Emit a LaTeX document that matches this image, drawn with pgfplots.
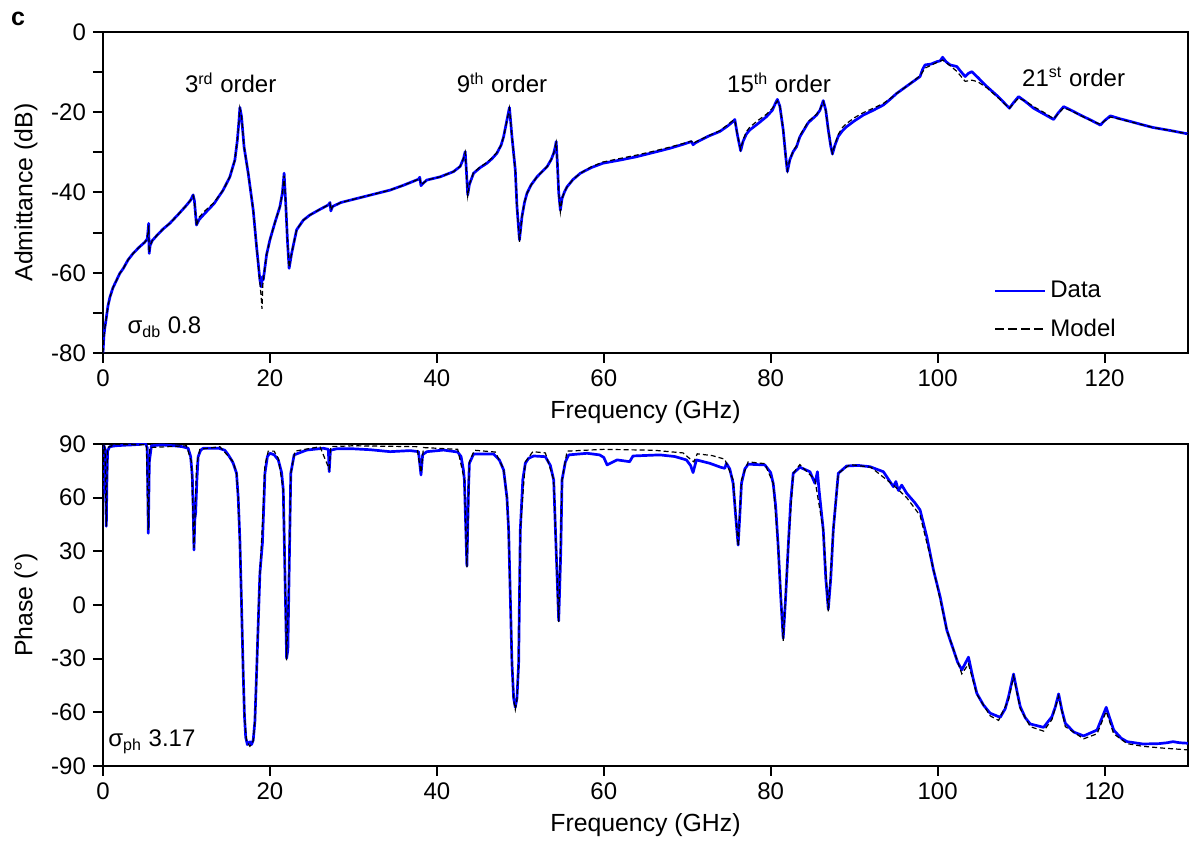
\documentclass[border=0pt]{standalone}
\usepackage{pgfplots}
\pgfplotsset{compat=1.18}
\usepackage{fontspec}
\setmainfont{Liberation Sans}
\definecolor{dblue}{RGB}{0,0,255}

\pgfplotsset{
  base/.style={
    scale only axis,
    width=542.5pt,
    xmin=0, xmax=130,
    xtick={0,20,...,120},
    axis line style={line width=1pt},
    tick align=outside,
    tick pos=left,
    major tick length=5pt,
    minor tick length=5pt,
    every tick/.style={black, line width=1pt},
    /pgf/number format/assume math mode=true,
    tick label style={font=\fontsize{12}{14}\selectfont},
    label style={font=\fontsize{12.4}{14}\selectfont},
    xlabel={Frequency (GHz)},
    clip=true,
  },
  dataline/.style={dblue, line width=1.35pt, line join=round},
  modelline/.style={black, line width=0.6pt, dash pattern=on 2.5pt off 1.5pt},
}

\pgfplotstableread{
x y
0.0 -80
0.1 -76
0.2 -74
0.36 -71.8
0.6 -68.2
0.84 -66
1.2 -63.7
1.64 -61.8
2.0 -60.2
2.44 -58.9
3.0 -56.8
3.6 -55.2
4.3 -53.7
5.0 -52.4
5.3 -51.6
5.42 -49
5.47 -47.7
5.53 -55.2
5.65 -53.2
5.9 -52
6.5 -50.6
7.2 -49.1
8.0 -47.7
9.0 -45.5
10.0 -43.2
10.5 -41.9
10.8 -40.6
10.95 -42
11.2 -48.1
11.5 -46.8
12.2 -45.2
13.3 -42.8
14.4 -39.4
15.2 -36.1
15.8 -31.9
16.1 -26.9
16.3 -21.9
16.4 -18.8
16.6 -21.1
16.9 -28.6
17.4 -35.2
18.0 -44.4
18.4 -53.5
18.8 -61.8
18.95 -63.5
19.1 -61
19.2 -61.8
19.35 -59.5
19.6 -55.5
20.0 -51.8
20.6 -47.5
21.2 -43.5
21.5 -40
21.7 -35.2
21.9 -43
22.1 -52
22.3 -58.9
22.6 -55.2
23.2 -49.3
24.0 -46.9
24.8 -45.6
26.0 -44.2
27.0 -43.1
27.2 -42.5
27.3 -44.6
27.5 -43.5
28.5 -42.5
30.4 -41.5
32.5 -40.4
34.4 -39.4
36.0 -38.2
37.8 -36.7
37.95 -36.2
38.1 -38.3
38.3 -37.8
38.8 -36.9
40.4 -36.1
42.0 -34.8
42.8 -33.5
43.2 -31.5
43.4 -29.8
43.55 -35
43.7 -40.6
43.9 -38
44.4 -35.2
45.2 -33.8
46.0 -32.7
46.6 -31.6
47.2 -30.2
47.7 -28.2
48.0 -26.1
48.4 -21.9
48.7 -18.8
49.0 -26.1
49.4 -34.4
49.6 -43.5
49.9 -51.8
50.2 -46.0
50.5 -42.5
50.8 -40.2
51.3 -38.1
52.0 -36.1
53.2 -33.6
53.7 -31.8
54.0 -30.2
54.2 -28.5
54.3 -27.3
54.45 -33
54.6 -40
54.8 -44.4
55.0 -41.5
55.3 -39.8
55.6 -38.6
56.3 -36.8
57.2 -35.2
58.5 -33.8
59.9 -32.7
62.0 -31.9
63.9 -31.1
66.0 -30.0
67.9 -29.0
69.5 -28.0
70.5 -27.3
70.7 -28.1
71.0 -27.6
72.5 -26.0
73.9 -24.8
74.8 -23.5
75.5 -22.3
75.7 -21.8
76.0 -25.5
76.4 -29.6
76.7 -27.2
77.1 -25.4
77.5 -24.4
78.5 -22.8
79.5 -21.1
80.2 -19.5
80.6 -17.6
80.8 -16.8
81.1 -18.5
81.5 -24.4
81.8 -31
82.0 -34.8
82.3 -31.8
82.7 -29.8
83.1 -28.6
83.5 -26.1
84.5 -22.6
85.5 -20.7
85.9 -19.5
86.3 -17.1
86.6 -19.5
86.9 -24.4
87.2 -28.5
87.4 -30.4
87.7 -28.2
88.1 -26.0
88.6 -24.6
89.1 -23.6
90.0 -22.2
91.1 -20.7
92.3 -19.5
93.5 -18.2
94.3 -16.8
95.1 -15.3
96.5 -13.2
97.9 -11.1
98.2 -9.3
98.5 -8.2
99.2 -8.0
99.9 -7.4
100.3 -7.2
100.6 -6.3
101.0 -7.4
101.5 -8.2
102.3 -8.6
102.8 -9.9
103.3 -11.1
103.7 -10.3
104.1 -9.9
104.8 -11.3
105.9 -13.6
107.3 -16.2
108.6 -19.0
109.1 -17.6
109.7 -16.1
110.5 -17.3
111.5 -19.0
112.7 -20.4
113.9 -21.8
114.4 -20.3
115.1 -18.6
116.0 -19.5
117.1 -20.7
118.3 -21.9
119.5 -23.2
120.0 -22.1
120.7 -20.9
121.8 -21.6
123.1 -22.3
124.5 -23.1
125.8 -23.8
128.0 -24.6
130.0 -25.4
}\admdata

\pgfplotstableread{
x y
0.0 -80
0.1 -76
0.2 -74
0.36 -71.8
0.6 -68.2
0.84 -66
1.2 -63.7
1.64 -61.8
2.0 -60.2
2.44 -58.9
3.0 -56.8
3.6 -55.2
4.3 -53.7
5.0 -52.4
5.3 -51.6
5.42 -49.5
5.47 -48.2
5.53 -55.0
5.65 -53.2
5.9 -52
6.5 -50.6
7.2 -49.1
8.0 -47.7
9.0 -45.5
10.0 -43.2
10.5 -41.9
10.8 -40.8
10.95 -42
11.2 -48.3
11.5 -46.2
12.2 -44.6
13.3 -42.5
14.4 -39.4
15.2 -36.1
15.8 -31.9
16.1 -26.9
16.3 -22.1
16.4 -19.0
16.6 -21.1
16.9 -28.6
17.4 -35.2
18.0 -44.4
18.4 -53.5
18.8 -62.5
18.95 -66
19.05 -69
19.15 -63
19.35 -59.5
19.6 -55.5
20.0 -51.8
20.6 -47.5
21.2 -43.5
21.5 -40
21.7 -35.8
21.9 -43
22.1 -52
22.3 -58.7
22.6 -55.2
23.2 -49.3
24.0 -46.9
24.8 -45.6
26.0 -44.2
27.0 -43.1
27.2 -42.7
27.3 -44.4
27.5 -43.5
28.5 -42.5
30.4 -41.5
32.5 -40.4
34.4 -39.4
36.0 -38.2
37.8 -36.7
37.95 -36.4
38.1 -38.1
38.3 -37.8
38.8 -36.9
40.4 -36.1
42.0 -34.8
42.8 -33.5
43.2 -31.5
43.4 -30.0
43.55 -35
43.7 -40.8
43.9 -38
44.4 -35.0
45.2 -33.6
46.0 -32.5
46.6 -31.4
47.2 -30.0
47.7 -28.2
48.0 -26.1
48.4 -22.1
48.7 -19.0
49.0 -26.1
49.4 -34.4
49.6 -43.5
49.9 -52.3
50.2 -46.0
50.5 -42.5
50.8 -40.2
51.3 -38.1
52.0 -36.1
53.2 -33.6
53.7 -31.8
54.0 -30.2
54.2 -28.5
54.3 -27.6
54.45 -33
54.6 -40
54.8 -44.8
55.0 -41.5
55.3 -39.8
55.6 -38.6
56.3 -36.8
57.2 -35.2
58.5 -33.6
59.9 -32.4
62.0 -31.5
63.9 -30.7
66.0 -29.7
67.9 -28.7
69.5 -27.8
70.5 -27.2
70.7 -27.8
71.0 -27.4
72.5 -25.9
73.9 -24.6
74.8 -23.2
75.5 -22.0
75.7 -22.0
76.0 -25.5
76.4 -29.3
76.7 -26.8
77.1 -24.8
77.5 -23.7
78.5 -22.0
79.5 -20.5
80.2 -19.0
80.6 -17.8
80.8 -17.2
81.1 -18.5
81.5 -24.4
81.8 -31
82.0 -34.5
82.3 -31.8
82.7 -29.6
83.1 -28.3
83.5 -25.8
84.5 -22.3
85.5 -20.5
85.9 -19.3
86.3 -17.4
86.6 -19.5
86.9 -24.4
87.2 -28.5
87.4 -30.2
87.7 -28.0
88.1 -25.5
88.6 -23.8
89.1 -22.8
90.0 -21.4
91.1 -20.1
92.3 -19.0
93.5 -17.8
94.3 -16.6
95.1 -15.3
96.5 -13.2
97.9 -10.9
98.5 -9.0
99.2 -8.3
99.9 -7.6
100.6 -7.0
101.5 -8.4
102.3 -9.8
103.3 -12.3
104.1 -12.0
104.8 -12.4
105.9 -13.9
107.3 -16.5
108.6 -19.0
109.1 -17.8
109.7 -16.5
110.5 -17.2
111.5 -18.6
112.7 -20.0
113.9 -21.6
114.4 -20.5
115.1 -18.9
116.0 -19.6
117.1 -20.8
118.3 -22.0
119.5 -23.0
120.0 -22.2
120.7 -21.2
121.8 -21.7
123.1 -22.4
124.5 -23.1
125.8 -23.8
128.0 -24.6
130.0 -25.4
}\admmodel

\pgfplotstableread{
x y
0.0 62
0.05 80
0.12 89
0.25 87
0.33 60
0.4 44
0.47 70
0.55 86
0.8 88.5
1.5 89
2.5 89.3
3.5 89.5
4.5 89.8
5.0 91
5.3 88
5.43 40.1
5.55 80
5.8 89
7 89.5
8.5 89
9.5 88.5
10.2 87.6
10.5 83
10.7 72
10.8 55
10.9 30.7
11.0 48
11.1 51.3
11.25 70
11.4 82.9
11.7 86.5
12.0 87.6
13.9 87.6
14.6 86.5
15.0 84
15.4 81
15.6 79.2
15.9 75
16.0 73.6
16.2 60
16.4 36.3
16.6 0
16.8 -38.2
16.95 -62
17.1 -74
17.3 -78
17.6 -76.5
17.8 -78
18.0 -75.5
18.2 -65
18.4 -38.2
18.6 -10
18.8 17.7
19.1 34.5
19.3 60
19.4 73.6
19.7 83
20.0 84.8
20.5 84
21.0 81.1
21.4 74
21.6 64.3
21.8 17.7
22.0 -29.8
22.15 -25
22.3 17.7
22.5 73.6
22.9 83.9
24.4 86.6
26.4 87.6
27.0 87
27.1 74.5
27.25 86.5
28 87.3
30 87.3
32 86.8
34.4 85.7
36.8 86.3
37.8 85.7
38.1 72.7
38.3 84
38.8 85.7
40.8 86.6
42.5 85.5
42.9 83
43.2 75
43.3 69.9
43.6 21.8
43.8 66
43.9 79.2
44.4 84.4
46.8 84.4
47.5 81
48.0 75.5
48.4 60
48.6 41.9
48.8 5
49.0 -32.6
49.2 -52
49.4 -57.2
49.6 -52
49.8 -32.6
49.9 5
50.0 41.9
50.3 70
50.6 79.2
51.0 82
51.6 83.3
53.0 82.9
53.6 78
54.0 69.9
54.3 30
54.6 -8.8
54.85 30
55.0 69.9
55.4 80
55.8 83.9
58.0 84.8
59.5 83.9
60.0 82.5
60.4 78.3
61.6 81.1
63.1 80.1
63.5 83.3
66.7 83.9
68.5 83
69.9 81.1
70.4 78
70.7 74.0
71.1 81.1
72.7 79.2
74.0 77
74.5 76.4
74.7 79.2
75.1 76
75.5 68.0
75.8 50
76.1 33.5
76.3 50
76.5 68.0
76.9 76
77.3 78.7
79.3 78.3
80.0 74
80.3 68.0
80.6 55
80.9 32.6
81.2 5
81.5 -18.6
81.8 5
82.1 32.6
82.4 58
82.7 73.6
83.5 77
84.7 74.5
85.3 68.0
85.6 74.5
85.8 64
86.3 41.9
86.6 15
86.9 -2.4
87.2 15
87.5 41.9
88.1 73.6
89.1 77.7
90.5 78
91.9 77.3
93.5 74.5
94.7 66.1
95.0 69
95.3 64
95.7 67
96.3 62.4
97.3 57
97.9 53.1
98.7 38.2
99.5 19.6
100.3 4.7
101.1 -14.0
101.9 -25.1
102.4 -32
102.9 -36.3
103.7 -29.2
104.2 -40
104.7 -49.4
105.5 -56
106.3 -60.5
107.5 -62.8
108.1 -58
108.5 -51.2
109.1 -38.6
109.5 -48
109.9 -56.8
110.5 -63
111.1 -66.5
112.7 -68.4
113.7 -62.4
114.1 -57
114.5 -49.7
114.9 -59
115.3 -66.1
116.3 -71
117.5 -73.2
119.1 -69.9
119.7 -63
120.2 -57.2
120.6 -63
121.1 -69.9
122.0 -74.5
122.7 -76.4
124.6 -77.7
126.5 -77.5
127.5 -77
128.2 -76.4
129 -77
130 -77.3
}\phdata

\pgfplotstableread{
x y
0.0 62
0.05 80
0.12 89
0.25 87
0.33 60
0.4 44
0.47 70
0.55 88
1.5 89.8
5.2 89.5
5.43 42
5.6 88
10.0 89
10.6 80
10.9 32
11.2 78
11.6 87
14 88.5
15.6 80
16.0 73.6
16.2 60
16.4 36.3
16.6 0
16.8 -38.2
16.95 -62
17.2 -76
17.6 -79
18.0 -76
18.2 -65
18.4 -38.2
18.6 -10
18.8 17.7
19.1 45
19.4 78
19.8 86
20.5 86
21.0 82
21.6 64.3
21.8 17.7
22.0 -31
22.3 17.7
22.5 73.6
23 86
26 88.5
27.1 76
27.3 88.5
30 89
37.6 88.5
38.1 74
38.4 88
42.5 87
43.3 70
43.6 21
43.9 80
44.5 86.5
47 85.5
48 76
48.4 60
48.6 41.9
48.8 5
49.0 -32.6
49.2 -53
49.4 -58.5
49.6 -53
49.8 -32.6
49.9 5
50.0 41.9
50.6 80
51.5 85.7
53 85
54 70
54.6 -9.5
55 70
55.6 86
60 87
66 86.5
69.5 85
70.5 81
70.8 80
71.2 84.5
73 83.5
74.5 81.5
75.5 70
76.1 33
76.5 70
77.3 80
79.3 79
80.3 68
80.9 32.6
81.5 -20
82.1 32.6
82.7 73.6
83.5 78.5
85.3 70
86.3 41.9
86.9 -3.5
87.5 41.9
88.1 73.6
89.5 78.5
92 77
94.7 67
96.3 60
97.9 50
99.5 20
101.1 -14
102.9 -38.5
103.7 -33
104.7 -50
106.3 -62
107.3 -64.5
108.5 -53
109.1 -40
109.9 -58
111.1 -68
112.7 -70.5
113.7 -64
114.5 -51
115.3 -68
117.5 -74.8
119.1 -72
120.2 -59.5
121.1 -72
122.7 -77.5
124.6 -79
127 -80
130 -81
}\phmodel

\begin{document}
\begin{tikzpicture}
\useasboundingbox (0,0) rectangle (595pt,425pt);
\node[font=\fontsize{12.5}{14}\selectfont\bfseries] at (9pt,415.5pt) {c};

\begin{axis}[base,
  at={(51.5pt,248.5pt)}, anchor=south west,
  height=160.5pt,
  ymin=-80, ymax=0,
  ytick={-80,-60,...,0},
  minor ytick={-70,-50,...,-10},
  ylabel={Admittance (dB)},
  legend style={draw=none, fill=none, at={(0.815,0.25)}, anchor=north west,
    font=\fontsize{12}{14}\selectfont, row sep=5pt},
  legend cell align=left,
  legend image code/.code={\draw[#1] (0pt,0pt) -- (25pt,0pt);},
]
\addplot[dataline] table {\admdata};
\addlegendentry{Data}
\addplot[modelline, forget plot] table {\admmodel};
\addlegendimage{black, line width=1.3pt, dash pattern=on 4.5pt off 2pt}
\addlegendentry{Model}
\node[font=\fontsize{12}{14}\selectfont] at (axis cs:15.3,-12.7) {3\textsuperscript{rd} order};
\node[font=\fontsize{12}{14}\selectfont] at (axis cs:47.8,-12.7) {9\textsuperscript{th} order};
\node[font=\fontsize{12}{14}\selectfont] at (axis cs:81.0,-12.7) {15\textsuperscript{th} order};
\node[font=\fontsize{12}{14}\selectfont] at (axis cs:116.3,-11.2) {21\textsuperscript{st} order};
\node[font=\fontsize{12}{14}\selectfont, anchor=west, inner sep=0pt] at (axis cs:2.9,-73.5) {σ\textsubscript{db} 0.8};
\end{axis}

\begin{axis}[base,
  at={(51.5pt,42pt)}, anchor=south west,
  height=161pt,
  ymin=-90, ymax=90,
  ytick={-90,-60,...,90},
  ylabel={Phase (°)},
]
\addplot[dataline] table {\phdata};
\addplot[modelline] table {\phmodel};
\node[font=\fontsize{12}{14}\selectfont, anchor=west, inner sep=0pt] at (axis cs:0.6,-76.6) {σ\textsubscript{ph} 3.17};
\end{axis}
\end{tikzpicture}
\end{document}
